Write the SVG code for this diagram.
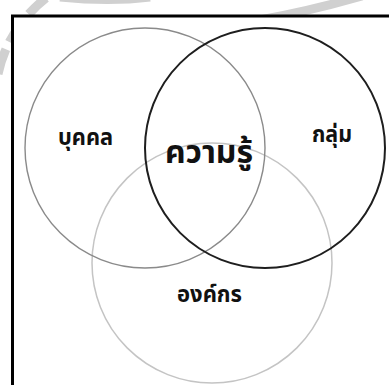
<svg xmlns="http://www.w3.org/2000/svg" width="389" height="385" viewBox="0 0 389 385">
<style>
.lbl{font-family:"Noto Sans Thai","Noto Sans","DejaVu Sans",sans-serif;font-weight:bold;fill:#111;text-anchor:middle}
.ring{fill:none}
.wm{fill:none;stroke:#d0d0d0;stroke-width:9}
</style>
<rect width="389" height="385" fill="#ffffff"/>
<g id="watermark">
<path class="wm" d="M-2,74 Q8,28 46,-2" stroke-dasharray="26 8"/>
<path class="wm" d="M236,24 Q300,14 362,-4"/>
<path class="wm" d="M60,-3 Q110,2 150,-3" stroke-width="6"/>
</g>
<rect id="frame" x="12.5" y="16" width="400" height="400" fill="#ffffff" stroke="#000" stroke-width="3"/>
<g id="connectors"></g>
<g id="organization">
<circle class="ring" cx="212" cy="263" r="120" stroke="#c4c4c4" stroke-width="1.5"/>
<text class="lbl" x="209.5" y="302" font-size="23" textLength="65" lengthAdjust="spacingAndGlyphs">องค์กร</text>
</g>
<g id="individual">
<circle class="ring" cx="145" cy="148" r="120" stroke="#8a8a8a" stroke-width="1.4"/>
<text class="lbl" x="85.5" y="145" font-size="23" textLength="55" lengthAdjust="spacingAndGlyphs">บุคคล</text>
</g>
<g id="group">
<circle class="ring" cx="265" cy="148" r="120" stroke="#1e1e1e" stroke-width="2"/>
<text class="lbl" x="332" y="142" font-size="23" textLength="40" lengthAdjust="spacingAndGlyphs">กลุ่ม</text>
</g>
<g id="knowledge">
<text class="lbl" x="209" y="163" font-size="32" textLength="88" lengthAdjust="spacingAndGlyphs">ความรู้</text>
</g>
</svg>
